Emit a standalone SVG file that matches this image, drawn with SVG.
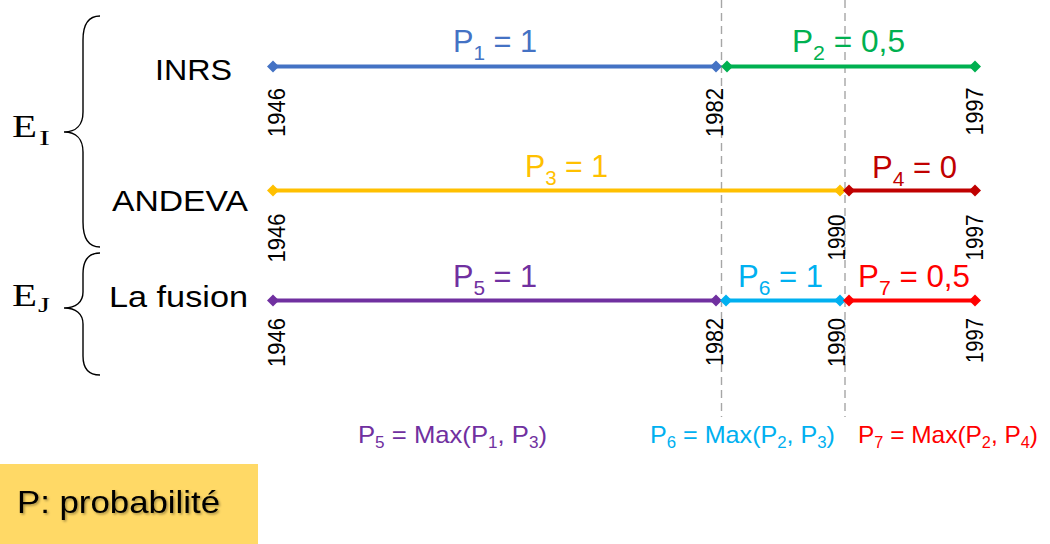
<svg xmlns="http://www.w3.org/2000/svg" width="1050" height="544" viewBox="0 0 1050 544">
<style>
.lbl{font-family:"Liberation Sans",Arial,sans-serif;}
.yr{font-family:"Liberation Sans",Arial,sans-serif;font-size:24px;fill:#000;text-anchor:middle;}
.seg{stroke-width:4;fill:none;stroke-linecap:butt;}
.dash{stroke:#A6A6A6;stroke-width:1.4;stroke-dasharray:8 5;fill:none;}
.brace{stroke:#000;stroke-width:1.4;fill:none;}
.em{font-family:"Liberation Serif","Times New Roman",serif;fill:#000;}
</style>
<defs>
<path id="dm" d="M-6,0 L0,-6 L6,0 L0,6 Z"/>
<filter id="sh" x="-10%" y="-20%" width="130%" height="150%">
<feDropShadow dx="1.5" dy="1.5" stdDeviation="1" flood-color="#000" flood-opacity="0.35"/>
</filter>
</defs>
<rect width="1050" height="544" fill="#fff"/>

<g id="guides">
<line class="dash" x1="721.5" y1="0" x2="721.5" y2="417"/>
<line class="dash" x1="845" y1="0" x2="845" y2="417"/>
</g>

<g id="braces">
<path class="brace" d="M100,16 C88,16 83,24 83,40 L83,112 C83,125 76,132 64,132 C76,132 83,139 83,152 L83,222 C83,238 88,247 100,247"/>
<path class="brace" d="M100,253 C88,253 83,261 83,274 L83,292 C83,302 76,308 64,308 C76,308 83,314 83,324 L83,356 C83,368 88,375 100,375"/>
</g>

<g id="EI">
<text class="em" x="12" y="137" font-size="31" textLength="25" lengthAdjust="spacingAndGlyphs">E</text>
<text class="em" x="39" y="145" font-size="20" textLength="11" lengthAdjust="spacingAndGlyphs">I</text>
</g>
<g id="EJ">
<text class="em" x="12" y="306" font-size="31" textLength="25" lengthAdjust="spacingAndGlyphs">E</text>
<text class="em" x="38" y="312" font-size="20" textLength="12" lengthAdjust="spacingAndGlyphs">J</text>
</g>

<g id="INRS"><text class="lbl" x="155" y="80" font-size="29" textLength="77" lengthAdjust="spacingAndGlyphs" fill="#000">INRS</text></g>
<g id="ANDEVA"><text class="lbl" x="112" y="211" font-size="29" textLength="136" lengthAdjust="spacingAndGlyphs" fill="#000">ANDEVA</text></g>
<g id="LaFusion"><text class="lbl" x="109" y="307" font-size="30" textLength="139" lengthAdjust="spacingAndGlyphs" fill="#000">La fusion</text></g>

<g id="connectors">
<line class="seg" stroke="#4472C4" x1="273" y1="66.5" x2="717" y2="66.5"/>
<use href="#dm" x="273" y="66.5" fill="#4472C4"/><use href="#dm" x="716" y="66.5" fill="#4472C4"/>
<line class="seg" stroke="#00B050" x1="726" y1="66.5" x2="975" y2="66.5"/>
<use href="#dm" x="727" y="66.5" fill="#00B050"/><use href="#dm" x="975" y="66.5" fill="#00B050"/>

<line class="seg" stroke="#FFC000" x1="273" y1="190.5" x2="840" y2="190.5"/>
<use href="#dm" x="273" y="190.5" fill="#FFC000"/><use href="#dm" x="840" y="190.5" fill="#FFC000"/>
<line class="seg" stroke="#C00000" x1="849" y1="190.5" x2="975" y2="190.5"/>
<use href="#dm" x="849" y="190.5" fill="#C00000"/><use href="#dm" x="975" y="190.5" fill="#C00000"/>

<line class="seg" stroke="#7030A0" x1="273" y1="300.5" x2="717" y2="300.5"/>
<use href="#dm" x="273" y="300.5" fill="#7030A0"/><use href="#dm" x="716" y="300.5" fill="#7030A0"/>
<line class="seg" stroke="#00B0F0" x1="726" y1="300.5" x2="840" y2="300.5"/>
<use href="#dm" x="726" y="300.5" fill="#00B0F0"/><use href="#dm" x="840" y="300.5" fill="#00B0F0"/>
<line class="seg" stroke="#FF0000" x1="849" y1="300.5" x2="975" y2="300.5"/>
<use href="#dm" x="849" y="300.5" fill="#FF0000"/><use href="#dm" x="975" y="300.5" fill="#FF0000"/>
</g>

<g id="years">
<text class="yr" transform="translate(285,112.5) rotate(-90)" textLength="49" lengthAdjust="spacingAndGlyphs">1946</text>
<text class="yr" transform="translate(723,112.5) rotate(-90)" textLength="49" lengthAdjust="spacingAndGlyphs">1982</text>
<text class="yr" transform="translate(983,111.5) rotate(-90)" textLength="48" lengthAdjust="spacingAndGlyphs">1997</text>
<text class="yr" transform="translate(285,238) rotate(-90)" textLength="49" lengthAdjust="spacingAndGlyphs">1946</text>
<text class="yr" transform="translate(845,237.5) rotate(-90)" textLength="46" lengthAdjust="spacingAndGlyphs">1990</text>
<text class="yr" transform="translate(983,237.5) rotate(-90)" textLength="46" lengthAdjust="spacingAndGlyphs">1997</text>
<text class="yr" transform="translate(285,342.5) rotate(-90)" textLength="49" lengthAdjust="spacingAndGlyphs">1946</text>
<text class="yr" transform="translate(723,342) rotate(-90)" textLength="48" lengthAdjust="spacingAndGlyphs">1982</text>
<text class="yr" transform="translate(845,342.5) rotate(-90)" textLength="49" lengthAdjust="spacingAndGlyphs">1990</text>
<text class="yr" transform="translate(983,340.5) rotate(-90)" textLength="45" lengthAdjust="spacingAndGlyphs">1997</text>
</g>

<g id="p1"><text class="lbl" x="453" y="52" font-size="31" fill="#4472C4" textLength="84" lengthAdjust="spacingAndGlyphs">P<tspan font-size="21" dy="8">1</tspan><tspan dy="-8"> = 1</tspan></text></g>
<g id="p2"><text class="lbl" x="792" y="52" font-size="31" fill="#00B050" textLength="113" lengthAdjust="spacingAndGlyphs">P<tspan font-size="21" dy="8">2</tspan><tspan dy="-8"> = 0,5</tspan></text></g>
<g id="p3"><text class="lbl" x="525" y="177" font-size="31" fill="#FFC000" textLength="83" lengthAdjust="spacingAndGlyphs">P<tspan font-size="21" dy="8">3</tspan><tspan dy="-8"> = 1</tspan></text></g>
<g id="p4"><text class="lbl" x="872" y="178" font-size="31" fill="#C00000" textLength="85" lengthAdjust="spacingAndGlyphs">P<tspan font-size="21" dy="8">4</tspan><tspan dy="-8"> = 0</tspan></text></g>
<g id="p5"><text class="lbl" x="453" y="287" font-size="31" fill="#7030A0" textLength="84" lengthAdjust="spacingAndGlyphs">P<tspan font-size="21" dy="8">5</tspan><tspan dy="-8"> = 1</tspan></text></g>
<g id="p6"><text class="lbl" x="738" y="287" font-size="31" fill="#00B0F0" textLength="85" lengthAdjust="spacingAndGlyphs">P<tspan font-size="21" dy="8">6</tspan><tspan dy="-8"> = 1</tspan></text></g>
<g id="p7"><text class="lbl" x="858" y="287" font-size="31" fill="#FF0000" textLength="112" lengthAdjust="spacingAndGlyphs">P<tspan font-size="21" dy="8">7</tspan><tspan dy="-8"> = 0,5</tspan></text></g>

<g id="f5"><text class="lbl" x="358" y="443" font-size="24" fill="#7030A0" textLength="189" lengthAdjust="spacingAndGlyphs">P<tspan font-size="16" dy="5">5</tspan><tspan dy="-5"> = Max(P</tspan><tspan font-size="16" dy="5">1</tspan><tspan dy="-5">, P</tspan><tspan font-size="16" dy="5">3</tspan><tspan dy="-5">)</tspan></text></g>
<g id="f6"><text class="lbl" x="650" y="443" font-size="24" fill="#00B0F0" textLength="185" lengthAdjust="spacingAndGlyphs">P<tspan font-size="16" dy="5">6</tspan><tspan dy="-5"> = Max(P</tspan><tspan font-size="16" dy="5">2</tspan><tspan dy="-5">, P</tspan><tspan font-size="16" dy="5">3</tspan><tspan dy="-5">)</tspan></text></g>
<g id="f7"><text class="lbl" x="858" y="443" font-size="24" fill="#FF0000" textLength="180" lengthAdjust="spacingAndGlyphs">P<tspan font-size="16" dy="5">7</tspan><tspan dy="-5"> = Max(P</tspan><tspan font-size="16" dy="5">2</tspan><tspan dy="-5">, P</tspan><tspan font-size="16" dy="5">4</tspan><tspan dy="-5">)</tspan></text></g>

<g id="legend">
<rect x="0" y="464" width="258" height="80" fill="#FFD966"/>
<text class="lbl" x="17" y="513" font-size="32" fill="#000" filter="url(#sh)" textLength="203" lengthAdjust="spacingAndGlyphs">P: probabilité</text>
</g>
</svg>
